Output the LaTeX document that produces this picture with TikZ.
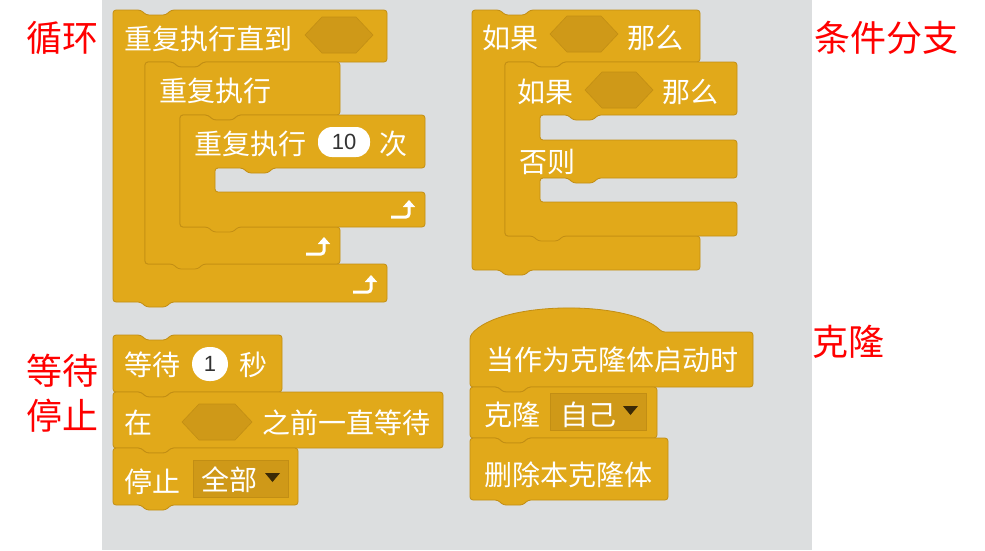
\documentclass[tikz,border=0pt]{standalone}
\usepackage{fontspec}
\newfontfamily\cjk{Noto Sans CJK SC}
\newfontfamily\numfont{Liberation Sans}
\usetikzlibrary{arrows.meta}

\definecolor{ctrl}{HTML}{E1A91A}
\definecolor{ctrldark}{HTML}{C28E14}
\definecolor{slot}{HTML}{CF9918}
\definecolor{area}{HTML}{DCDEDF}
\definecolor{tri}{HTML}{3B2A06}

% stack block: left, top, right, bottom
\newcommand{\stackblock}[4]{%
  \filldraw[blk] (#1,#2) -- (#1+28,#2) -- (#1+33,#2+5) -- (#1+53,#2+5) -- (#1+58,#2) -- (#3,#2)
    -- (#3,#4) -- (#1+58,#4) -- (#1+53,#4+5) -- (#1+33,#4+5) -- (#1+28,#4) -- (#1,#4) -- cycle;}
% c block: left, top, right, header bottom, mouth left, arm top, bottom
\newcommand{\cblock}[7]{%
  \filldraw[blk] (#1,#2) -- (#1+28,#2) -- (#1+33,#2+5) -- (#1+53,#2+5) -- (#1+58,#2) -- (#3,#2)
    -- (#3,#4) -- (#5+58,#4) -- (#5+53,#4+5) -- (#5+33,#4+5) -- (#5+28,#4) -- (#5,#4)
    -- (#5,#6) -- (#3,#6) -- (#3,#7)
    -- (#1+58,#7) -- (#1+53,#7+5) -- (#1+33,#7+5) -- (#1+28,#7) -- (#1,#7) -- cycle;}
% if-else block: left, top, right, header bottom, mouth left, arm1 top, arm1 bottom, arm2 top, bottom
\newcommand{\ifelseblock}[9]{%
  \filldraw[blk] (#1,#2) -- (#1+28,#2) -- (#1+33,#2+5) -- (#1+53,#2+5) -- (#1+58,#2) -- (#3,#2)
    -- (#3,#4) -- (#5+58,#4) -- (#5+53,#4+5) -- (#5+33,#4+5) -- (#5+28,#4) -- (#5,#4)
    -- (#5,#6) -- (#3,#6) -- (#3,#7)
    -- (#5+58,#7) -- (#5+53,#7+5) -- (#5+33,#7+5) -- (#5+28,#7) -- (#5,#7)
    -- (#5,#8) -- (#3,#8) -- (#3,#9)
    -- (#1+58,#9) -- (#1+53,#9+5) -- (#1+33,#9+5) -- (#1+28,#9) -- (#1,#9) -- cycle;}
% boolean slot: centre x, centre y, width
\newcommand{\boolslot}[3]{%
  \filldraw[hexslot] (#1-#3/2,#2) -- (#1-#3/2+17,#2-18) -- (#1+#3/2-17,#2-18)
    -- (#1+#3/2,#2) -- (#1+#3/2-17,#2+18) -- (#1-#3/2+17,#2+18) -- cycle;}
% loop arrow: right, bottom of the arm
\newcommand{\looparrow}[2]{%
  \draw[looparr] (#1-34,#2-10) -- (#1-16,#2-10) -- (#1-16,#2-27);}
% dropdown: left, top, right, bottom
\newcommand{\dropdown}[4]{%
  \filldraw[ddbox] (#1,#2) rectangle (#3,#4);
  \fill[tri] (#3-23,#2+13) -- (#3-8,#2+13) -- (#3-15.5,#2+22) -- cycle;}

\tikzset{
  blk/.style={fill=ctrl, draw=ctrldark, line width=0.8pt, rounded corners=3pt},
  hexslot/.style={fill=slot, draw=ctrldark, line width=0.6pt},
  ddbox/.style={fill=slot, draw=ctrldark, line width=1pt},
  looparr/.style={draw=white, line width=3pt, rounded corners=3pt, -{Triangle[length=7pt,width=12pt]}},
  blktxt/.style={anchor=west, inner sep=0pt, text=white, font=\cjk\fontsize{28}{28}\selectfont},
  numslot/.style={fill=white, rounded corners=14pt, inner sep=0pt, minimum height=30pt,
    text=black!80, font=\numfont\fontsize{22}{22}\selectfont},
  lbl/.style={inner sep=0pt, text=red, font=\cjk\fontsize{36}{36}\selectfont}
}

\begin{document}
\begin{tikzpicture}[x=1pt,y=-1pt]
  \useasboundingbox (0,0) rectangle (985,550);
  \fill[white] (0,0) rectangle (985,550);
  \fill[area] (102,0) rectangle (812,550);

  % loops
  \cblock{113}{10}{387}{62}{145}{264}{302}
  \cblock{145}{62}{340}{115}{180}{227}{264}
  \cblock{180}{115}{425}{168}{215}{192}{227}
  \boolslot{339}{35}{68}
  \looparrow{387}{302}
  \looparrow{340}{264}
  \looparrow{425}{227}
  \node[blktxt] (until) at (124,39) {重复执行直到};
  \node[blktxt] (forever) at (159,91) {重复执行};
  \node[blktxt] (repeat) at (194,144) {重复执行};
  \node[numslot, minimum width=52pt] (times) at (344,142) {10};
  \node[blktxt] (ci) at (379,144) {次};

  % if / if-else
  \cblock{472}{10}{700}{62}{505}{236}{270}
  \ifelseblock{505}{62}{737}{115}{540}{140}{178}{202}{236}
  \boolslot{584}{34}{68}
  \boolslot{619}{90}{68}
  \node[blktxt] (if1) at (482,38) {如果};
  \node[blktxt] (then1) at (627,38) {那么};
  \node[blktxt] (if2) at (517,92) {如果};
  \node[blktxt] (then2) at (662,92) {那么};
  \node[blktxt] (else2) at (519,162) {否则};

  % wait / stop
  \stackblock{113}{335}{282}{392}
  \stackblock{113}{392}{443}{448}
  \stackblock{113}{448}{298}{505}
  \boolslot{217}{422}{70}
  \dropdown{193}{460}{288}{497}
  \node[blktxt] (wait) at (124,365) {等待};
  \node[numslot, minimum width=36pt, minimum height=34pt, rounded corners=17pt] (secs) at (210,364) {1};
  \node[blktxt] (miao) at (239,365) {秒};
  \node[blktxt] (zai) at (124,423) {在};
  \node[blktxt] (waituntil) at (262,423) {之前一直等待};
  \node[blktxt] (stop) at (124,482) {停止};
  \node[blktxt] (stopall) at (201,480) {全部};

  % clones
  \filldraw[blk] (470,387) -- (470,336) .. controls (500,300) and (630,300) .. (662,332) -- (753,332)
    -- (753,387) -- (528,387) -- (523,392) -- (503,392) -- (498,387) -- cycle;
  \stackblock{470}{387}{657}{438}
  \stackblock{470}{438}{668}{500}
  \dropdown{550}{393}{646}{430}
  \node[blktxt] (whenclone) at (486,360) {当作为克隆体启动时};
  \node[blktxt] (clone) at (484,415) {克隆};
  \node[blktxt] (myself) at (560,415) {自己};
  \node[blktxt] (delclone) at (484,475) {删除本克隆体};

  % side labels
  \node[lbl] (xunhuan) at (62,38) {循环};
  \node[lbl] (tiaojian) at (886,38) {条件分支};
  \node[lbl] (dengdai) at (62,371) {等待};
  \node[lbl] (tingzhi) at (62,416) {停止};
  \node[lbl] (kelong) at (848,342) {克隆};
\end{tikzpicture}
\end{document}
